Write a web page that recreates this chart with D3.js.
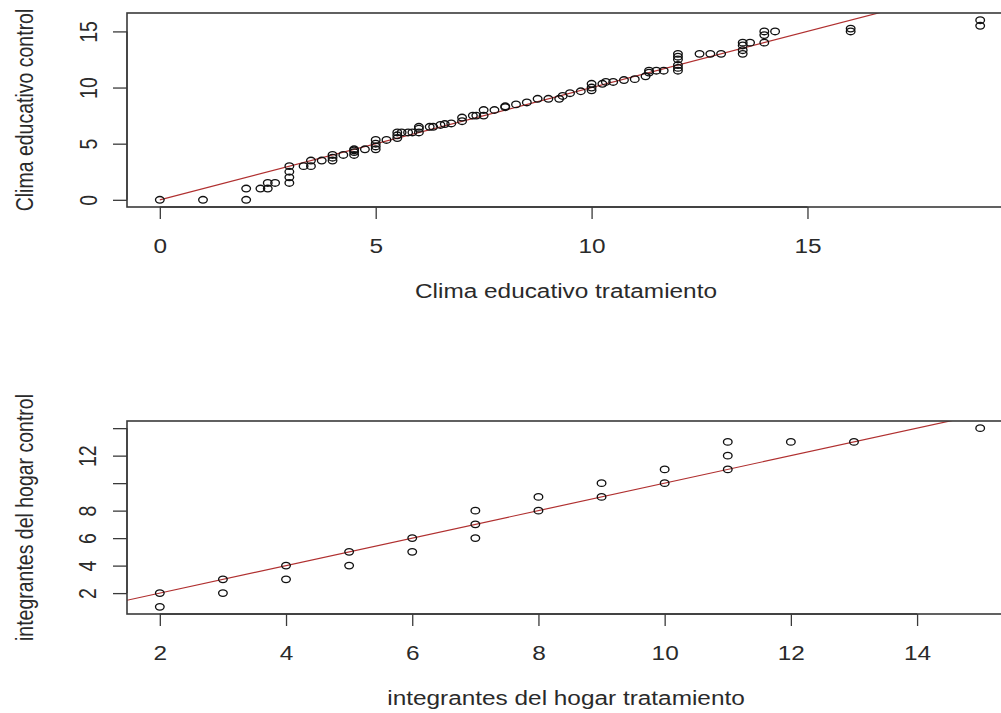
<!DOCTYPE html>
<html>
<head>
<meta charset="utf-8">
<script src="https://cdn.jsdelivr.net/npm/d3@7"></script>
<style>
  html, body { margin: 0; padding: 0; background: #fff; }
  svg { display: block; }
  text { font-family: "Liberation Sans", Arial, sans-serif; fill: #2a2a2a; }
</style>
</head>
<body>
<svg id="chart" width="1001" height="713"></svg>
<script>
// ---------- DATA ----------
// Panel 1: Q-Q of "clima educativo" (tratamiento vs control)
const climaTratamiento = [0,1,2,2,2.33,2.5,2.5,2.67,3,3,3,3,3.33,3.5,3.5,3.75,4,4,4,4.25,4.5,4.5,4.5,4.5,4.75,5,5,5,5,5.25,5.5,5.5,5.5,5.6,5.75,5.85,6,6,6,6.25,6.33,6.5,6.6,6.75,7,7,7.25,7.33,7.5,7.5,7.75,8,8,8.25,8.5,8.75,9,9.25,9.33,9.5,9.75,10,10,10,10.25,10.33,10.5,10.75,11,11.25,11.33,11.33,11.5,11.67,12,12,12,12,12,12,12.5,12.75,13,13.5,13.5,13.5,13.5,13.67,14,14,14,14.25,16,16,19,19];
const climaControl = [0,0,0,1,1,1,1.5,1.5,1.5,2,2.5,3,3,3,3.5,3.5,3.5,3.75,4,4,4,4.25,4.4,4.5,4.5,4.5,4.75,5,5.33,5.33,5.5,5.75,6,6,6,6,6,6.33,6.5,6.5,6.5,6.67,6.75,6.8,7,7.33,7.5,7.5,7.5,8,8,8.25,8.33,8.5,8.67,9,9,9,9.25,9.5,9.67,9.75,10,10.33,10.33,10.5,10.5,10.67,10.75,11,11.33,11.5,11.5,11.5,11.5,11.75,12,12.5,12.75,13,13,13,13,13,13.33,13.75,14,14,14,14.67,15,15,15,15.25,15.5,16];
const climaXTicks = [0, 5, 10, 15];
const climaXTickLabels = ["0", "5", "10", "15"];
const climaYTicks = [0, 5, 10, 15];
const climaYTickLabels = ["0", "5", "10", "15"];
const climaXTitle = "Clima educativo tratamiento";
const climaYTitle = "Clima educativo control";
const climaLineStart = 0;   // reference line y = x drawn from x = 0

// Panel 2: Q-Q of "integrantes del hogar"
const hogarTratamiento = [2,2,3,3,4,4,5,5,6,6,7,7,7,8,8,9,9,10,10,11,11,11,12,13,15];
const hogarControl     = [1,2,2,3,3,4,4,5,5,6,6,7,8,8,9,9,10,10,11,11,12,13,13,13,14];
const hogarXTicks = [2, 4, 6, 8, 10, 12, 14];
const hogarXTickLabels = ["2", "4", "6", "8", "10", "12", "14"];
const hogarYTicks = [2, 4, 6, 8, 10, 12, 14];
const hogarYTickLabels = ["2", "4", "6", "8", "", "12", ""];
const hogarXTitle = "integrantes del hogar tratamiento";
const hogarYTitle = "integrantes del hogar control";

const refIntercept = 0, refSlope = 1;

// ---------- LAYOUT ----------
const svg = d3.select("#chart");
const FS = 19.5;          // font size
const SX = 1.25;          // horizontal stretch of the original image
const AX = "#3a3a3a";
const LINE_RED = "#b03030";

function pad(ext) { const d = (ext[1] - ext[0]) * 0.04; return [ext[0] - d, ext[1] + d]; }

function panel(cfg) {
  const { xs, ys, left, right, top, bottom } = cfg;
  const x = d3.scaleLinear().domain(pad(d3.extent(xs))).range([left, right]);
  const y = d3.scaleLinear().domain(pad(d3.extent(ys))).range([bottom, top]);
  const g = svg.append("g");

  const clipId = "clip" + cfg.id;
  svg.append("clipPath").attr("id", clipId)
    .append("rect").attr("x", left).attr("y", top).attr("width", right - left).attr("height", bottom - top);

  // reference line
  const x0 = cfg.lineStart != null ? cfg.lineStart : x.domain()[0];
  const x1 = x.domain()[1];
  g.append("line")
    .attr("clip-path", `url(#${clipId})`)
    .attr("x1", x(x0)).attr("y1", y(refIntercept + refSlope * x0))
    .attr("x2", x(x1)).attr("y2", y(refIntercept + refSlope * x1))
    .attr("stroke", LINE_RED).attr("stroke-width", 1.2);

  // points
  g.append("g").selectAll("ellipse").data(xs.map((v, i) => [v, ys[i]])).join("ellipse")
    .attr("cx", d => x(d[0])).attr("cy", d => y(d[1]))
    .attr("rx", 4.3).attr("ry", 3.3)
    .attr("fill", "none").attr("stroke", "#111").attr("stroke-width", 1.35);

  // box
  g.append("rect").attr("x", left).attr("y", top).attr("width", right - left).attr("height", bottom - top)
    .attr("fill", "none").attr("stroke", AX).attr("stroke-width", 1.6);

  // x axis
  const xa = g.append("g").attr("transform", `translate(0,${bottom})`)
    .call(d3.axisBottom(x).tickValues(cfg.xTicks).tickSize(12).tickSizeOuter(0)
      .tickFormat((d, i) => cfg.xTickLabels[i]));
  xa.select(".domain").attr("stroke", AX).attr("stroke-width", 1.3)
    .attr("d", `M${x(cfg.xTicks[0])},0H${x(cfg.xTicks[cfg.xTicks.length - 1])}`);
  xa.selectAll(".tick line").attr("stroke", AX).attr("stroke-width", 1.3);
  xa.selectAll(".tick text")
    .attr("y", null).attr("dy", null).attr("fill", "#2a2a2a")
    .attr("font-size", FS).attr("font-family", "Liberation Sans, Arial, sans-serif")
    .attr("transform", `translate(0,${cfg.xLabelBase - bottom}) scale(${SX},1)`);

  // y axis
  const ya = g.append("g").attr("transform", `translate(${left},0)`)
    .call(d3.axisLeft(y).tickValues(cfg.yTicks).tickSize(14).tickSizeOuter(0)
      .tickFormat((d, i) => cfg.yTickLabels[i]));
  ya.select(".domain").attr("stroke", AX).attr("stroke-width", 1.3)
    .attr("d", `M0,${y(cfg.yTicks[0])}V${y(cfg.yTicks[cfg.yTicks.length - 1])}`);
  ya.selectAll(".tick line").attr("stroke", AX).attr("stroke-width", 1.3);
  ya.selectAll(".tick text")
    .attr("x", null).attr("dy", null).attr("fill", "#2a2a2a")
    .attr("font-size", FS).attr("font-family", "Liberation Sans, Arial, sans-serif")
    .attr("text-anchor", "middle")
    .attr("transform", `translate(${cfg.yLabelBase - left},0) scale(${SX},1) rotate(-90)`);

  // titles
  g.append("text").text(cfg.xTitle)
    .attr("text-anchor", "middle").attr("font-size", FS)
    .attr("transform", `translate(${(left + right) / 2 - 4},${cfg.xTitleBase}) scale(${SX},1)`);
  g.append("text").text(cfg.yTitle)
    .attr("text-anchor", "middle").attr("font-size", FS)
    .attr("transform", `translate(${cfg.yTitleBase},${(top + bottom) / 2}) scale(${SX},1) rotate(-90)`);
}

panel({
  id: 1, xs: climaTratamiento, ys: climaControl,
  left: 127, right: 1013, top: 13, bottom: 207,
  xTicks: climaXTicks, xTickLabels: climaXTickLabels,
  yTicks: climaYTicks, yTickLabels: climaYTickLabels,
  xTitle: climaXTitle, yTitle: climaYTitle,
  xLabelBase: 253, yLabelBase: 97, xTitleBase: 298, yTitleBase: 33,
  lineStart: climaLineStart
});

panel({
  id: 2, xs: hogarTratamiento, ys: hogarControl,
  left: 127, right: 1013, top: 421, bottom: 614,
  xTicks: hogarXTicks, xTickLabels: hogarXTickLabels,
  yTicks: hogarYTicks, yTickLabels: hogarYTickLabels,
  xTitle: hogarXTitle, yTitle: hogarYTitle,
  xLabelBase: 660, yLabelBase: 96, xTitleBase: 705, yTitleBase: 33,
  lineStart: null
});
</script>
</body>
</html>
